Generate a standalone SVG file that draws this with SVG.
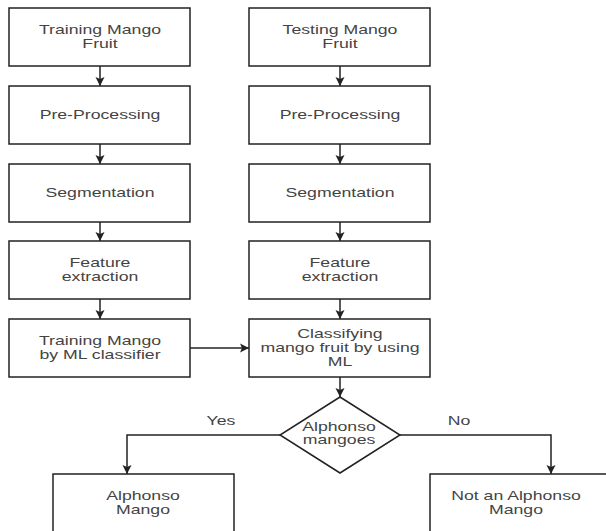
<svg xmlns="http://www.w3.org/2000/svg" width="606" height="531" viewBox="0 0 606 531">
<style>
.box{fill:#fff;stroke:#222;stroke-width:1.5}
.ln{fill:none;stroke:#222;stroke-width:1.5}
text{font-family:"Liberation Sans",Arial,sans-serif;font-size:13px;fill:#444;text-anchor:middle}
</style>
<defs>
<marker id="ah" markerUnits="userSpaceOnUse" markerWidth="10" markerHeight="10" viewBox="0 0 10 10" refX="9" refY="5" orient="auto">
<path d="M0,0.5 L9,5 L0,9.5 L2,5 Z" fill="#222"/>
</marker>
</defs>
<rect width="606" height="531" fill="#fff"/>
<g id="connectors">
<path class="ln" d="M100,66 V86" marker-end="url(#ah)"/>
<path class="ln" d="M100,144 V164" marker-end="url(#ah)"/>
<path class="ln" d="M100,222 V241" marker-end="url(#ah)"/>
<path class="ln" d="M100,299 V319" marker-end="url(#ah)"/>
<path class="ln" d="M340,66 V86" marker-end="url(#ah)"/>
<path class="ln" d="M340,144 V164" marker-end="url(#ah)"/>
<path class="ln" d="M340,222 V241" marker-end="url(#ah)"/>
<path class="ln" d="M340,299 V319" marker-end="url(#ah)"/>
<path class="ln" d="M190,348 H249" marker-end="url(#ah)"/>
<path class="ln" d="M340,377 V397" marker-end="url(#ah)"/>
<path class="ln" d="M280,435 H127 V474" marker-end="url(#ah)"/>
<path class="ln" d="M400,435 H551 V474" marker-end="url(#ah)"/>
<text transform="translate(221 425) scale(1.36 1)">Yes</text>
<text transform="translate(459 425) scale(1.36 1)">No</text>
</g>
<g id="train1"><rect class="box" x="9" y="8" width="181" height="58"/>
<text transform="translate(100 34) scale(1.36 1)"><tspan x="0">Training Mango</tspan><tspan x="0" dy="14">Fruit</tspan></text></g>
<g id="train2"><rect class="box" x="9" y="86" width="181" height="58"/>
<text transform="translate(100 119) scale(1.36 1)">Pre-Processing</text></g>
<g id="train3"><rect class="box" x="9" y="164" width="181" height="58"/>
<text transform="translate(100 197) scale(1.36 1)">Segmentation</text></g>
<g id="train4"><rect class="box" x="9" y="241" width="181" height="58"/>
<text transform="translate(100 267) scale(1.36 1)"><tspan x="0">Feature</tspan><tspan x="0" dy="14">extraction</tspan></text></g>
<g id="train5"><rect class="box" x="9" y="319" width="181" height="58"/>
<text transform="translate(100 345) scale(1.36 1)"><tspan x="0">Training Mango</tspan><tspan x="0" dy="14">by ML classifier</tspan></text></g>
<g id="test1"><rect class="box" x="249" y="8" width="181" height="58"/>
<text transform="translate(340 34) scale(1.36 1)"><tspan x="0">Testing Mango</tspan><tspan x="0" dy="14">Fruit</tspan></text></g>
<g id="test2"><rect class="box" x="249" y="86" width="181" height="58"/>
<text transform="translate(340 119) scale(1.36 1)">Pre-Processing</text></g>
<g id="test3"><rect class="box" x="249" y="164" width="181" height="58"/>
<text transform="translate(340 197) scale(1.36 1)">Segmentation</text></g>
<g id="test4"><rect class="box" x="249" y="241" width="181" height="58"/>
<text transform="translate(340 267) scale(1.36 1)"><tspan x="0">Feature</tspan><tspan x="0" dy="14">extraction</tspan></text></g>
<g id="classify"><rect class="box" x="249" y="319" width="181" height="58"/>
<text transform="translate(340 338) scale(1.36 1)"><tspan x="0">Classifying</tspan><tspan x="0" dy="14">mango fruit by using</tspan><tspan x="0" dy="14">ML</tspan></text></g>
<g id="decision"><polygon class="box" points="340,397 400,435 340,473 280,435"/>
<text transform="translate(339 431) scale(1.36 1)"><tspan x="0">Alphonso</tspan><tspan x="0" dy="13">mangoes</tspan></text></g>
<g id="yesbox"><rect class="box" x="53" y="474" width="181" height="80"/>
<text transform="translate(143 500) scale(1.36 1)"><tspan x="0">Alphonso</tspan><tspan x="0" dy="14">Mango</tspan></text></g>
<g id="nobox"><rect class="box" x="430" y="474" width="181" height="80"/>
<text transform="translate(516 500) scale(1.36 1)"><tspan x="0">Not an Alphonso</tspan><tspan x="0" dy="14">Mango</tspan></text></g>
</svg>
